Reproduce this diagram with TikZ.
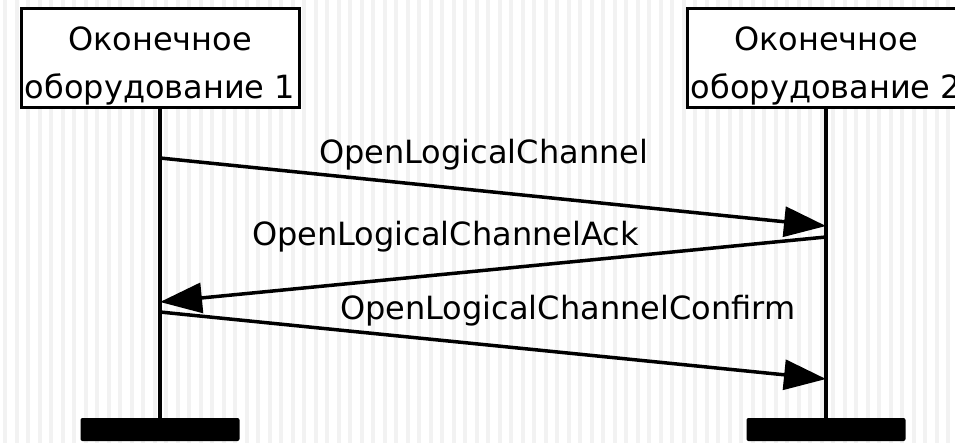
\documentclass[tikz,border=0pt]{standalone}
\usepackage{fontspec}
\setmainfont{DejaVu Sans}
\usetikzlibrary{arrows.meta}

\begin{document}
\begin{tikzpicture}[
  entity/.style={draw,fill=white,line width=3bp,minimum width=278bp,minimum height=99bp,inner sep=0pt},
  title/.style={align=center,inner sep=0pt,font=\fontsize{32bp}{48bp}\selectfont},
  msgtext/.style={anchor=base west,inner sep=0pt,font=\fontsize{32bp}{38bp}\selectfont},
  bar/.style={fill=black,rounded corners=2bp,minimum width=159bp,minimum height=23bp,inner sep=0pt},
  msg/.style={-{Triangle[length=42bp,width=30bp]},line width=3.5bp}
]
\useasboundingbox (0bp,0bp) rectangle (955bp,-443bp);
% background stripes
\foreach \x in {3,14.5,...,955} \fill[black!5] (\x bp,0bp) rectangle ++(4bp,-443bp);

% terminals
\node (E1) at (160bp,-57.5bp)[entity] {};
\node (E2) at (826bp,-57.5bp)[entity] {};
\node (T1) at (160bp,-66bp)[title] {Оконечное\\оборудование 1};
\node (T2) at (826bp,-66bp)[title] {Оконечное\\оборудование 2};

\node (B1) at (160bp,-429.5bp)[bar] {};
\node (B2) at (826bp,-429.5bp)[bar] {};
\draw [line width=3.5bp] (E1) -- (B1);
\draw [line width=3.5bp] (E2) -- (B2);

% message ends
\coordinate (s1) at (160bp,-158bp);
\coordinate (r1) at (826bp,-226bp);
\coordinate (r2) at (826bp,-237bp);
\coordinate (s2) at (160bp,-302bp);
\coordinate (s3) at (160bp,-312bp);
\coordinate (r3) at (826bp,-379bp);

\draw [msg] (s1) to (r1);
\draw [msg] (r2) to (s2);
\draw [msg] (s3) to (r3);

\node (L1) at (319bp,-163bp)[msgtext] {OpenLogicalChannel};
\node (L2) at (252bp,-245bp)[msgtext] {OpenLogicalChannelAck};
\node (L3) at (340bp,-319bp)[msgtext] {OpenLogicalChannelConfirm};
\end{tikzpicture}
\end{document}
